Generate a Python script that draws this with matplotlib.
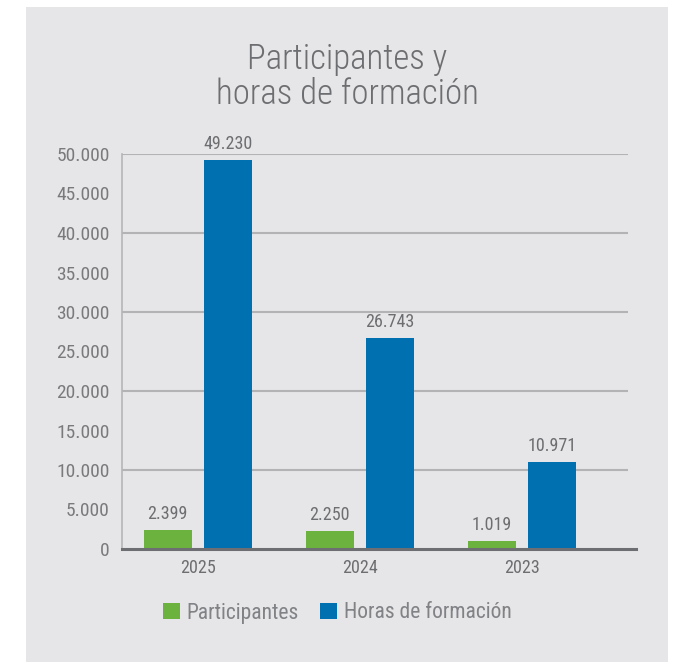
import matplotlib
matplotlib.use('Agg')
import matplotlib.pyplot as plt
from matplotlib.patches import Rectangle
import numpy as np

plt.rcParams['font.family'] = ['Roboto Condensed', 'DejaVu Sans']

# data
years = ['2025', '2024', '2023']
participantes = [2399, 2250, 1019]
horas = [49230, 26743, 10971]
y_ticks = [0, 5000, 10000, 15000, 20000, 25000, 30000, 35000, 40000, 45000, 50000]
grid_values = [10000, 20000, 30000, 40000, 50000]

green = '#6cb23e'
blue = '#0070b0'
panel = '#e6e5e8'
text_gray = '#6d6e71'


def fmt(v):
    return f'{v:,}'.replace(',', '.')


fig = plt.figure(figsize=(6.84, 6.62), dpi=100, facecolor='white')
# grey panel behind everything
fig.patches.append(Rectangle((26 / 684, 0), (668 - 26) / 684, 1 - 7 / 662,
                             transform=fig.transFigure, facecolor=panel,
                             edgecolor='none', zorder=-5))

ax = fig.add_axes([122 / 684, 1 - 549 / 662, (636 - 122) / 684, (549 - 154) / 662])
ax.set_facecolor('none')
ax.set_zorder(2)

x = np.arange(len(years))
w = 0.296
off = 0.185

# gridlines only every 10.000
ax.hlines(grid_values, -0.467, 2.656, colors='#b3b3b5', linewidth=1.5, zorder=1)

b1 = ax.bar(x - off, participantes, w, color=green, zorder=2, label='Participantes')
b2 = ax.bar(x + off, horas, w, color=blue, zorder=2, label='Horas de formación')

for rect, v in zip(list(b1) + list(b2), participantes + horas):
    ax.text(rect.get_x() + rect.get_width() / 2, rect.get_height() + 900, fmt(v),
            ha='center', va='bottom', fontsize=13, color=text_gray, clip_on=False)

ax.set_xlim(-0.467, 2.705)
ax.set_ylim(0, 50000)
ax.set_yticks(y_ticks)
ax.set_yticklabels([fmt(t) for t in y_ticks])
ax.set_xticks(x)
ax.set_xticklabels(years)
ax.tick_params(axis='y', length=0, pad=9, labelsize=14, labelcolor='#7a7a7c')
ax.tick_params(axis='x', length=0, pad=7, labelsize=13, labelcolor=text_gray)

for s in ['top', 'right']:
    ax.spines[s].set_visible(False)
ax.spines['left'].set_color('#b5b5b7')
ax.spines['left'].set_linewidth(1.2)
ax.spines['bottom'].set_color('#6d6e71')
ax.spines['bottom'].set_linewidth(2.2)
ax.spines['bottom'].set_zorder(3)

fig.text(347 / 684, 1 - 77 / 662, 'Participantes y\nhoras de formación', ha='center',
         va='center', fontsize=25, color=text_gray, linespacing=1.05, fontweight='light')

fig.legend(handles=[b1, b2], loc='center', bbox_to_anchor=(337 / 684, 1 - 613 / 662),
           ncol=2, frameon=False, fontsize=15.5, labelcolor='#808285',
           handlelength=0.8, handleheight=0.8, handletextpad=0.3, columnspacing=1.0)

fig.savefig('out.png', dpi=100, facecolor='white')
